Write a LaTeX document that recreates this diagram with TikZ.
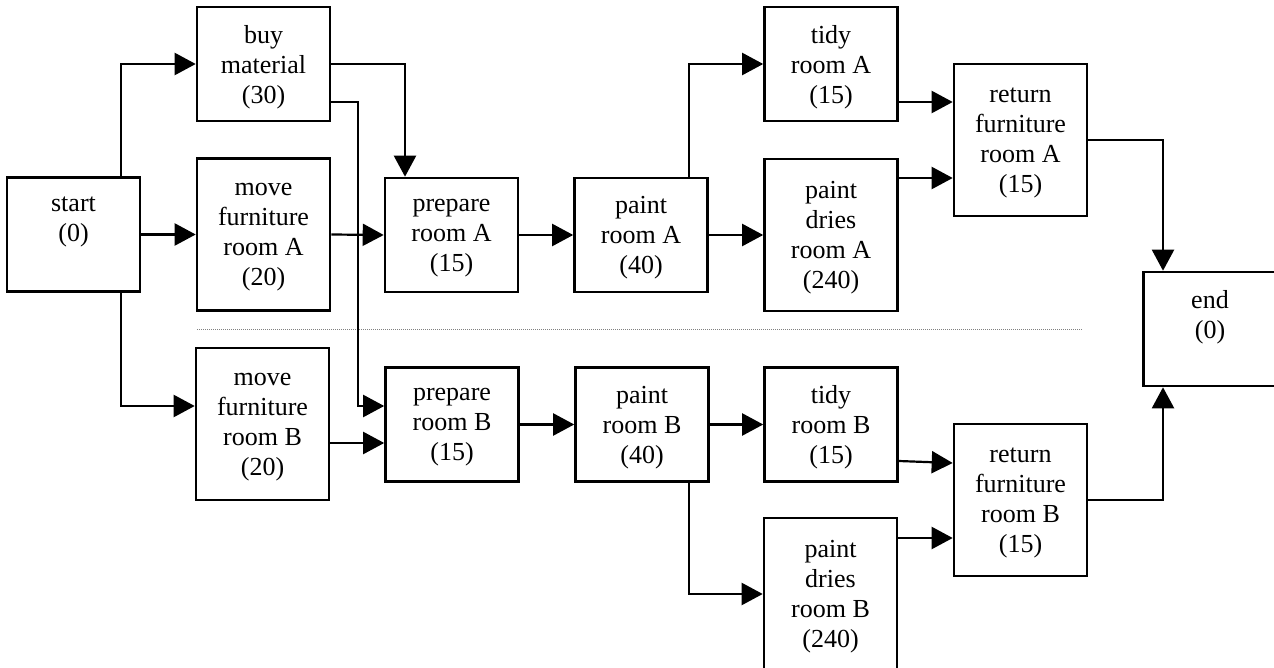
\documentclass[tikz,border=0pt]{standalone}
\usepackage{fontspec}
\setmainfont{Liberation Serif}
\usetikzlibrary{arrows.meta}
\begin{document}
\begin{tikzpicture}[x=1pt,y=-1pt,
  task/.style={draw, line width=2.6pt, minimum width=133pt, minimum height=114pt,
    inner sep=0pt, align=center, text depth=0pt, font=\fontsize{26}{30}\selectfont},
  tall/.style={task, minimum height=152pt},
  arr/.style={line width=2.2pt, -{Triangle[length=21pt,width=22pt]}}]
\useasboundingbox (0,0) rectangle (1274,668);

\node[task] (start) at (73.5,234.5) {start\\(0)\\\mbox{}};
\node[task] (buy) at (263.5,64) {buy\\material\\(30)};
\node[tall] (moveA) at (263.5,234.5) {move\\furniture\\room A\\(20)};
\node[tall] (moveB) at (262.5,424) {move\\furniture\\room B\\(20)};
\node[task] (prepA) at (451.5,235) {prepare\\room A\\(15)};
\node[task] (prepB) at (452,424.5) {prepare\\room B\\(15)};
\node[task] (paintA) at (641,235) {paint\\room A\\(40)};
\node[task] (paintB) at (642,424.5) {paint\\room B\\(40)};
\node[task] (tidyA) at (831,64) {tidy\\room A\\(15)};
\node[tall] (driesA) at (831,235) {paint\\dries\\room A\\(240)};
\node[task] (tidyB) at (831,424.5) {tidy\\room B\\(15)};
\node[tall] (driesB) at (830.5,594) {paint\\dries\\room B\\(240)};
\node[tall] (retA) at (1020.5,140) {return\\furniture\\room A\\(15)};
\node[tall] (retB) at (1020.5,500) {return\\furniture\\room B\\(15)};
\node[task] (end) at (1210,329) {end\\(0)\\\mbox{}};

\draw[gray, line width=0.8pt, dash pattern=on 1pt off 1pt] (197,329) -- (1083,329);

\draw[arr] (start.north -| 121,0) |- (buy.west);
\draw[arr] (start.east) -- (moveA.west);
\draw[arr] (start.south -| 121,0) |- (moveB.west |- 0,406);
\draw[arr] (buy.east) -| (prepA.north -| 405,0);
\draw[arr] (buy.east |- 0,102) -- (358,102) -- (358,406) -- (prepB.west |- 0,406);
\draw[arr] (moveA.east) -- (prepA.west);
\draw[arr] (moveB.east |- 0,443) -- (prepB.west |- 0,443);
\draw[arr] (prepA.east) -- (paintA.west);
\draw[arr] (paintA.north -| 689,0) |- (tidyA.west);
\draw[arr] (paintA.east) -- (driesA.west);
\draw[arr] (tidyA.east |- 0,102) -- (retA.west |- 0,102);
\draw[arr] (driesA.east |- 0,178) -- (retA.west |- 0,178);
\draw[arr] (retA.east) -| (end.north -| 1163,0);
\draw[arr] (prepB.east) -- (paintB.west);
\draw[arr] (paintB.east) -- (tidyB.west);
\draw[arr] (paintB.south -| 689,0) |- (driesB.west);
\draw[arr] (tidyB.east |- 0,461) -- (retB.west |- 0,463);
\draw[arr] (driesB.east |- 0,538) -- (retB.west |- 0,538);
\draw[arr] (retB.east) -| (end.south -| 1163,0);
\end{tikzpicture}
\end{document}
